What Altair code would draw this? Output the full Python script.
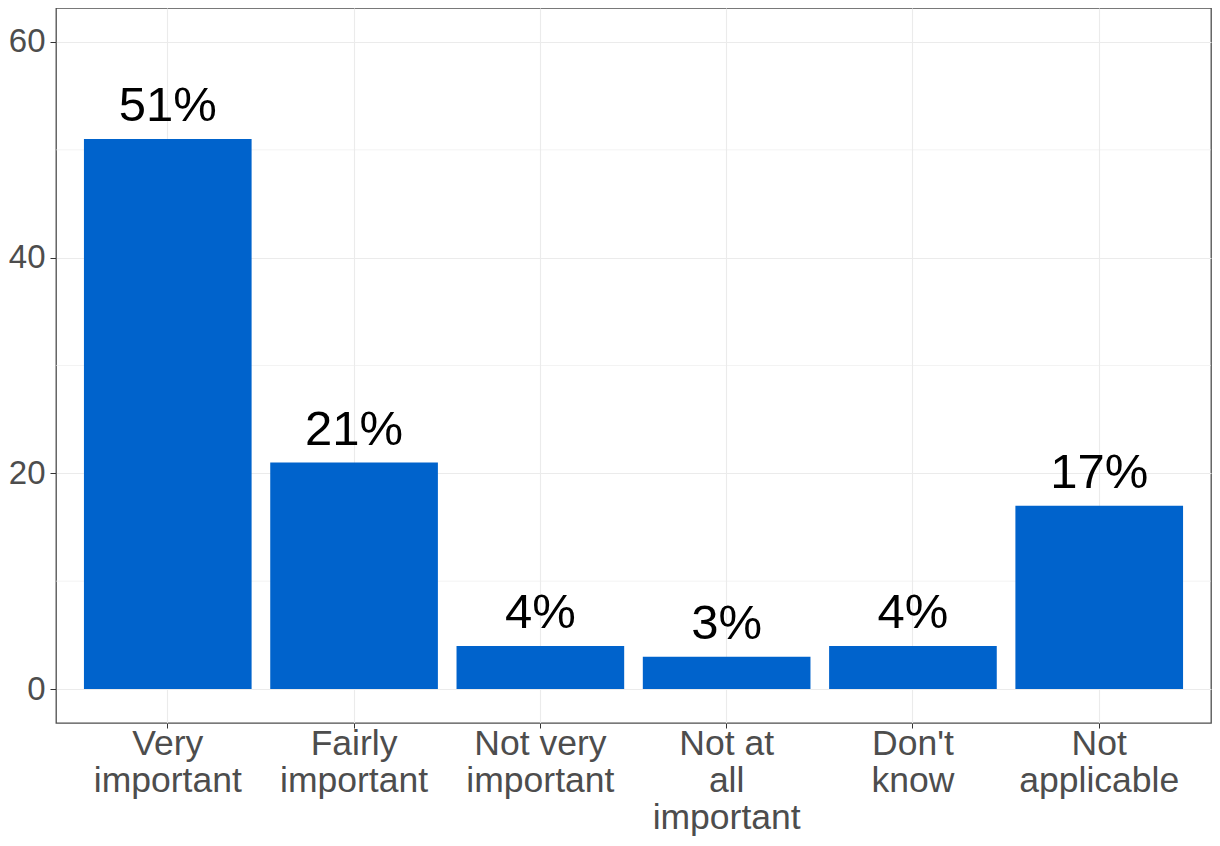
import altair as alt
import pandas as pd

categories = ["Very\nimportant", "Fairly\nimportant", "Not very\nimportant",
              "Not at\nall\nimportant", "Don't\nknow", "Not\napplicable"]
values = [51, 21, 4, 3, 4, 17]
labels = ["51%", "21%", "4%", "3%", "4%", "17%"]
major_ticks = [0, 20, 40, 60]
minor_ticks = [10, 30, 50]

df = pd.DataFrame({"cat": categories, "val": values, "lab": labels})
minor_df = pd.DataFrame({"v": minor_ticks})

FONT = "Liberation Sans"
ydom = [-3.15, 63.15]

xenc = alt.X("cat:N", sort=categories, title=None,
             scale=alt.Scale(paddingInner=0.1, paddingOuter=0.15),
             axis=alt.Axis(labelExpr="split(datum.label, '\\n')", labelAngle=0,
                           labelFont=FONT, labelFontSize=35.5, labelColor="#4D4D4D",
                           labelLineHeight=37, labelPadding=-2, labelBaseline="top",
                           tickColor="#333333", tickSize=5, tickWidth=1,
                           bandPosition=0.5, domain=False,
                           grid=True, gridColor="#EBEBEB", gridWidth=1.1))
yscale = alt.Scale(domain=ydom, nice=False, zero=False)

minor = alt.Chart(minor_df).mark_rule(color="#EBEBEB", strokeWidth=0.6).encode(
    y=alt.Y("v:Q", scale=yscale)
)

bars = alt.Chart(df).mark_bar(color="#0063CC").encode(
    x=xenc,
    y=alt.Y("val:Q", scale=yscale, title=None,
            axis=alt.Axis(values=major_ticks, labelFont=FONT, labelFontSize=33,
                          labelColor="#4D4D4D", labelPadding=5,
                          tickColor="#333333", tickSize=6, tickWidth=1,
                          domain=False, grid=True, gridColor="#EBEBEB", gridWidth=1.1)),
)

text = alt.Chart(df).mark_text(font=FONT, fontSize=49, color="black",
                               baseline="alphabetic", dy=-18).encode(
    x=alt.X("cat:N", sort=categories),
    y=alt.Y("val:Q", scale=yscale),
    text="lab:N",
)

chart = alt.layer(minor, bars, text).properties(
    width=1155, height=715,
    autosize=alt.AutoSizeParams(type="none"),
    padding={"left": 48, "top": 0, "right": 1, "bottom": 114},
).configure(
    background="white",
    view=alt.ViewConfig(stroke="#4D4D4D", strokeWidth=1.3),
)

chart.save("out.html", embed_options={"renderer": "svg", "actions": False})
